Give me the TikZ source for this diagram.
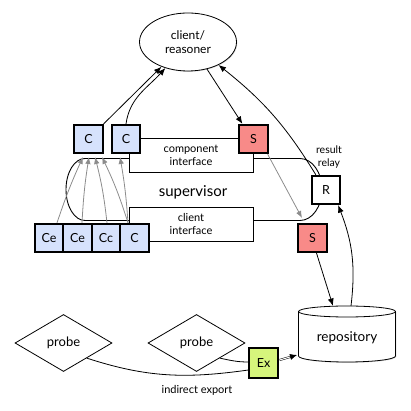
\documentclass[tikz,border=0pt]{standalone}
\usepackage{fontspec}
\setmainfont{Lato}
\usetikzlibrary{shapes.geometric,arrows.meta,calc,shadows}
\definecolor{cblue}{HTML}{D6E2FC}
\definecolor{sred}{HTML}{F88A88}
\definecolor{exgreen}{HTML}{D6F57C}
\definecolor{agray}{HTML}{8C8C8C}
\tikzset{
  sq/.style={draw=black, line width=1.7pt, minimum width=28.5pt, minimum height=28.5pt, inner sep=0pt, font=\fontsize{12.5}{14}\selectfont, drop shadow={shadow xshift=1pt, shadow yshift=-1pt, opacity=0.35}},
  cbox/.style={sq, fill=cblue},
  sbox/.style={sq, fill=sred},
  ifbox/.style={draw=black, line width=0.8pt, fill=white, minimum width=124pt, minimum height=34pt, inner sep=0pt, align=center, font=\fontsize{11}{13}\selectfont},
  probeshape/.style={diamond, draw=black, line width=0.8pt, fill=white, minimum width=97pt, minimum height=57pt, inner sep=0pt, font=\fontsize{13}{15}\selectfont},
  arr/.style={draw=black, line width=0.8pt, -{Latex[length=7.5pt,width=6pt]}},
  garr/.style={draw=agray, line width=0.8pt, -{Latex[length=7pt,width=5.5pt]}},
  plain/.style={draw=black, line width=0.8pt},
}
\begin{document}
\begin{tikzpicture}[x=1pt,y=1pt]
\useasboundingbox (0,0) rectangle (411,411);
% supervisor outline
\draw[line width=0.9pt] (85,252.5) -- (300,252.5) arc[start angle=90, end angle=-90, x radius=22, y radius=31] -- (85,190.5) arc[start angle=270, end angle=90, x radius=19, y radius=31] -- cycle;
\node[font=\fontsize{15}{17}\selectfont] (sup) at (193,219) {supervisor};
% interfaces
\node[ifbox] (ci) at (191,256) {component\\interface};
\node[ifbox] (cli) at (191,187) {client\\interface};
% client/reasoner
\node[ellipse, draw=black, line width=0.8pt, fill=white, minimum width=97pt, minimum height=58pt, inner sep=0pt, align=center, font=\fontsize{12}{14.5}\selectfont, drop shadow={shadow xshift=0.8pt, shadow yshift=-0.8pt, opacity=0.3}] (cr) at (188,369) {client/\\reasoner};
% boxes
\node[cbox] (c1) at (88.5,272) {C};
\node[cbox] (c2) at (126,272) {C};
\node[sbox] (s1) at (253.5,272) {S};
\node[cbox] (ce1) at (49,173) {Ce};
\node[cbox] (ce2) at (77.5,173) {Ce};
\node[cbox] (cc) at (106,173) {Cc};
\node[cbox] (c3) at (134.5,173) {C};
\node[sbox] (s2) at (312.5,173) {S};
\node[sq, fill=white] (r) at (326,221) {R};
\node[align=center, font=\fontsize{10.5}{12.5}\selectfont] (rl) at (329,254) {result\\relay};
% repository
\node[minimum width=97pt, minimum height=56pt, inner sep=0pt] (rep) at (347,77) {};
\filldraw[fill=white, line width=0.8pt, drop shadow={shadow xshift=0.8pt, shadow yshift=-0.8pt, opacity=0.3}] (298.5,99.5) -- (298.5,55) arc[start angle=180,end angle=360,x radius=48.5,y radius=6] -- (395.5,99.5) arc[start angle=0, end angle=180, x radius=48.5, y radius=5.5] -- cycle;
\draw[line width=0.8pt] (298.5,99.5) arc[start angle=180, end angle=360, x radius=48.5, y radius=5.5];
\node[font=\fontsize{13.5}{15}\selectfont] (reptext) at (347,73) {repository};
% probes
\node[probeshape] (p1) at (63.5,68) {probe};
\node[probeshape] (p2) at (196.5,68) {probe};
\node[sq, fill=exgreen, minimum height=30pt] (ex) at (263.5,48) {Ex};
\node[font=\fontsize{11}{13}\selectfont] (ie) at (197,21) {indirect export};
% coordinates
\coordinate (g1) at (302,193);
\coordinate (t1) at (83,254);
\coordinate (t2) at (89,254);
\coordinate (t3) at (95,254);
\coordinate (t4) at (102,254);
\coordinate (t5) at (120,254);
\coordinate (reptop) at (333,105);
\coordinate (repout) at (351,105);
\coordinate (exin) at (297,56);
% connectors
\draw[arr] (c1.north east) -- (cr.223);
\draw[arr] (c2.north) to[out=82,in=228] (cr.229);
\draw[arr] (cr.305) -- ($(s1.north west)+(4,0)$);
\draw[arr] ($(r.north west)+(5,0)$) to[bend right=10] (cr.323);
\draw[garr] ($(s1.south east)+(-1,0)$) -- (g1);
\draw[arr] ($(s2.south)+(4,0)$) -- (reptop);
\draw[arr] (repout) to[bend right=14] ($(r.south east)+(-3,0)$);
\draw[garr] ($(ce1.north)+(8,0)$) to[bend left=3] (t1);
\draw[garr] ($(ce2.north)+(4.5,0)$) to[bend left=3] (t2);
\draw[garr] ($(cc.north)+(1,0)$) to[bend right=4] (t3);
\draw[garr] ($(c3.north)+(-6.5,0)$) to[bend right=4] (t4);
\draw[garr] ($(c3.north)+(-6.5,0)$) to[bend right=3] (t5);
\draw[plain] (p1.-33) to[out=-18,in=188] ($(ex.west)+(0,-7)$);
\draw[plain] (p2.-33) to[out=-12,in=180] ($(ex.west)+(0,1)$);
\draw[line width=0.5pt, double, double distance=1pt, -{Latex[length=7pt,width=6pt]}] ($(ex.east)+(1,3)$) -- (exin);
\end{tikzpicture}
\end{document}
